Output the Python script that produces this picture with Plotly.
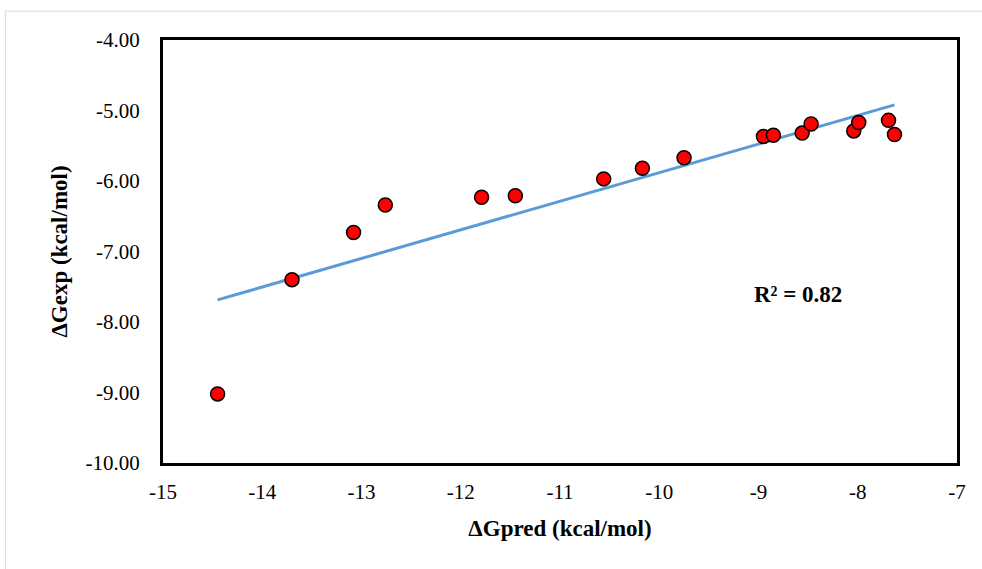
import numpy as np
import plotly.graph_objects as go

# Data
dg_pred = [-14.45, -13.70, -13.08, -12.76, -11.79, -11.45, -10.56, -10.17, -9.75,
           -8.95, -8.85, -8.56, -8.47, -8.04, -7.99, -7.69, -7.63]
dg_exp = [-9.02, -7.40, -6.73, -6.34, -6.23, -6.21, -5.97, -5.82, -5.67,
          -5.37, -5.35, -5.32, -5.19, -5.29, -5.17, -5.14, -5.34]

x_ticks = [-15, -14, -13, -12, -11, -10, -9, -8, -7]
y_ticks = [-10.0, -9.0, -8.0, -7.0, -6.0, -5.0, -4.0]

# Linear trendline (least squares) and R²
xa = np.array(dg_pred)
ya = np.array(dg_exp)
slope, intercept = np.polyfit(xa, ya, 1)
pred = slope * xa + intercept
r2 = 1 - np.sum((ya - pred) ** 2) / np.sum((ya - ya.mean()) ** 2)
fit_x = [xa.min(), xa.max()]
fit_y = [slope * v + intercept for v in fit_x]

FONT = "Liberation Serif"

fig = go.Figure()
fig.add_trace(go.Scatter(
    x=fit_x, y=fit_y, mode="lines",
    line=dict(color="#5B9BD5", width=3), showlegend=False, hoverinfo="skip"))
fig.add_trace(go.Scatter(
    x=dg_pred, y=dg_exp, mode="markers",
    marker=dict(size=14, color="#FF0000", line=dict(color="#000000", width=1.5)),
    showlegend=False))

fig.add_annotation(
    x=-8.6, y=-7.61, xref="x", yref="y", text=f"<b>R² = {r2:.2f}</b>",
    showarrow=False, font=dict(family=FONT, size=23, color="#000000"))

# outer chart-area border (light gray)
fig.add_shape(type="rect", xref="paper", yref="paper",
              x0=-0.1985, x1=1.05, y0=-0.3, y1=1.068,
              line=dict(color="#D9D9D9", width=1), fillcolor="rgba(0,0,0,0)", layer="below")

axis_common = dict(
    showgrid=False, zeroline=False, showline=True, mirror=True,
    linecolor="#000000", linewidth=3,
    ticks="outside", tickcolor="rgba(0,0,0,0)",
    tickfont=dict(family=FONT, size=21, color="#000000"),
)

fig.update_layout(
    width=982, height=569,
    margin=dict(l=163, r=25, t=40, b=106),
    paper_bgcolor="#FFFFFF", plot_bgcolor="#FFFFFF",
    font=dict(family=FONT),
    xaxis=dict(range=[-15, -7], tickvals=x_ticks, ticktext=[str(v) for v in x_ticks],
               ticklen=8,
               title=dict(text="<b>ΔGpred (kcal/mol)</b>", standoff=17,
                          font=dict(family=FONT, size=23, color="#000000")),
               **axis_common),
    yaxis=dict(range=[-10, -4], tickvals=y_ticks, ticktext=[f"{v:.2f}" for v in y_ticks],
               ticklen=16,
               title=dict(text="<b>ΔGexp (kcal/mol)</b>", standoff=12,
                          font=dict(family=FONT, size=23, color="#000000")),
               **axis_common),
)

fig.write_html("out.html", config={"displayModeBar": False},
               post_script="document.body.style.margin='0';")
